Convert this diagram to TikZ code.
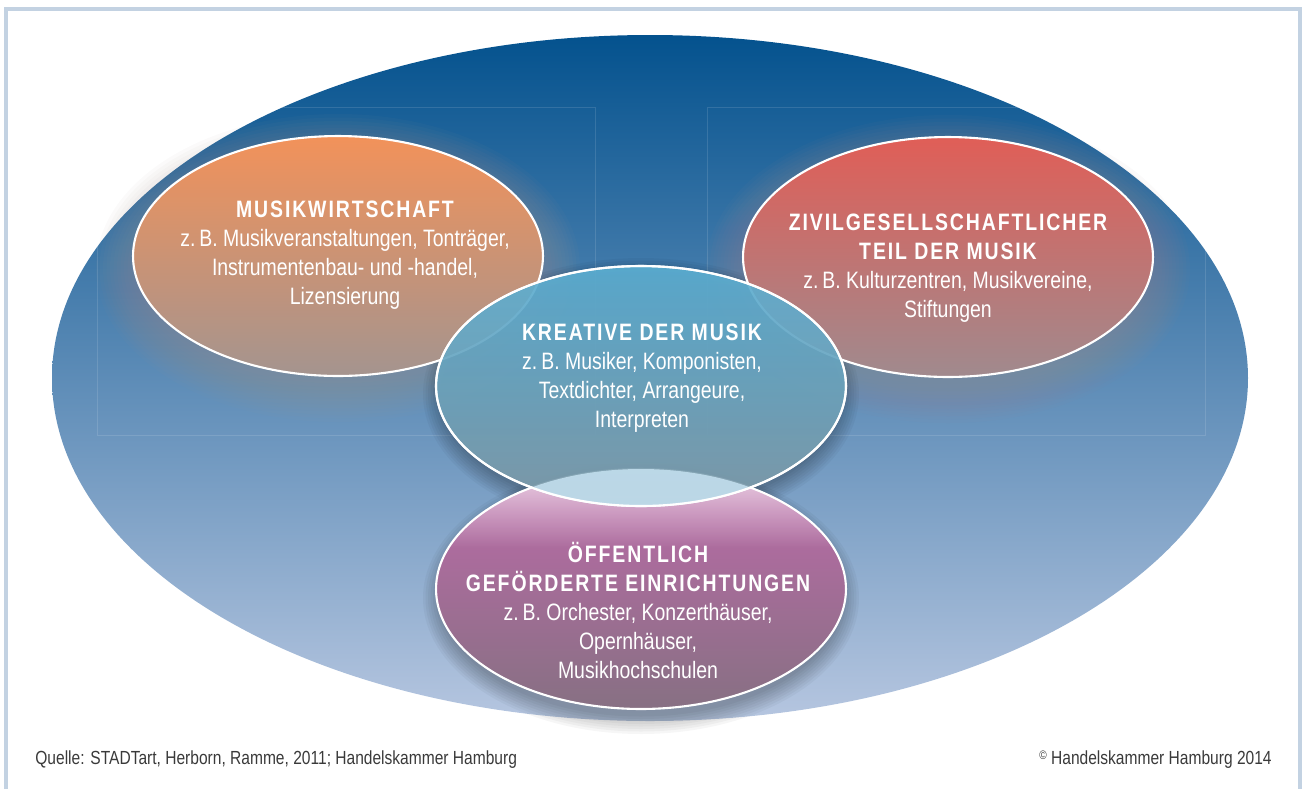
\documentclass[tikz,border=0pt]{standalone}
\usepackage{fontspec}
\setmainfont{Liberation Sans}[FakeStretch=0.82]
\newfontfamily\headfont{Liberation Sans}[FakeStretch=0.82, LetterSpace=8]
\usepackage{tikz}
\usetikzlibrary{shapes.geometric, fadings}

\definecolor{framegray}{HTML}{C3D2E2}
\definecolor{skytop}{HTML}{04528E}
\definecolor{skymid}{HTML}{5A80B6}
\definecolor{skybot}{HTML}{B6C6E0}
\definecolor{orangetop}{HTML}{F2925A}
\definecolor{orangebot}{HTML}{A4948F}
\definecolor{redtop}{HTML}{E05E57}
\definecolor{redbot}{HTML}{A08A8E}
\definecolor{cyantop}{HTML}{5BAED2}
\definecolor{cyanbot}{HTML}{7F9AA8}
\definecolor{violettop}{HTML}{BE6AAA}
\definecolor{violetbot}{HTML}{877083}
\definecolor{lenslight}{HTML}{BFDBEA}
\definecolor{footgray}{HTML}{3A3A3A}

\begin{document}
\begin{tikzpicture}[
    x=0.02cm, y=-0.02cm,
    bubble/.style={ellipse, draw=white, line width=1.2pt, inner sep=0pt, minimum width=8.2cm, minimum height=4.8cm},
    txt/.style={text=white, align=center, inner sep=0pt, font=\fontsize{13.5}{16.5}\selectfont},
    foot/.style={text=footgray, inner sep=0pt, font=\fontsize{10.8}{12}\selectfont},
    guide/.style={white, opacity=0.12, line width=0.4pt},
  ]
  \useasboundingbox (0,0) rectangle (1303,789);
  \draw[framegray, line width=2pt] (6,789) -- (6,9) -- (1300,9) -- (1300,789);

  % blue background field
  \shade[top color=skytop, middle color=skymid, bottom color=skybot] (650,378) ellipse [x radius=598, y radius=343];
  \draw[guide] (97,107) rectangle (595,435);
  \draw[guide] (707,107) rectangle (1205,435);

  % soft glows and shadows
  \foreach \c/\x/\y in {orangebot/338/268, redbot/948/269}
    \foreach \k in {1,...,12}
      \fill[\c, opacity=0.045] (\x,\y) ellipse [x radius=200+3.5*\k, y radius=112+3.5*\k];
  \foreach \y in {394, 598}
    \foreach \k in {1,...,8}
      \fill[black, opacity=0.035] (641,\y) ellipse [x radius=198+2.5*\k, y radius=116+2.5*\k];

  \node[bubble, top color=orangetop, bottom color=orangebot] (wirt) at (338,256) {};
  \node[bubble, top color=redtop, bottom color=redbot] (zivil) at (948,257) {};
  \node[bubble, top color=violettop, bottom color=violetbot] (oeff) at (641,589) {};
  \begin{scope}
    \clip (oeff.center) ellipse [x radius=205, y radius=120];
    \fill[white, opacity=0.75, path fading=south] (430,466) rectangle (850,548);
  \end{scope}
  \node[bubble, top color=cyantop, bottom color=cyanbot, fill opacity=0.92] (krea) at (641,386) {};
  \begin{scope}
    \clip (krea.center) ellipse [x radius=205, y radius=120];
    \fill[lenslight, opacity=0.95] (oeff.center) ellipse [x radius=205, y radius=120];
  \end{scope}
  \draw[white, line width=1.2pt] (krea.center) ellipse [x radius=205, y radius=120];

  \node[txt] (wirt-t) at (345,255) {{\headfont\bfseries MUSIKWIRTSCHAFT}\\
    z.\,B. Musikveranstaltungen, Tonträger,\\ Instrumentenbau- und -handel,\\ Lizensierung};
  \node[txt] (zivil-t) at (948,268) {{\headfont\bfseries ZIVILGESELLSCHAFTLICHER}\\
    {\headfont\bfseries TEIL DER MUSIK}\\ z.\,B. Kulturzentren, Musikvereine,\\ Stiftungen};
  \node[txt] (krea-t) at (642,378) {{\headfont\bfseries KREATIVE DER MUSIK}\\
    z.\,B. Musiker, Komponisten,\\ Textdichter, Arrangeure,\\ Interpreten};
  \node[txt] (oeff-t) at (638,610) {{\headfont\bfseries ÖFFENTLICH}\\
    {\headfont\bfseries GEFÖRDERTE EINRICHTUNGEN}\\ z.\,B. Orchester, Konzerthäuser,\\ Opernhäuser,\\ Musikhochschulen};

  \node[foot, anchor=west] (quelle) at (35,760) {Quelle: STADTart, Herborn, Ramme, 2011; Handelskammer Hamburg};
  \node[foot, anchor=east] (rechte) at (1272,760) {\raisebox{3pt}{\fontsize{7}{7}\selectfont ©} Handelskammer Hamburg 2014};
\end{tikzpicture}
\end{document}
